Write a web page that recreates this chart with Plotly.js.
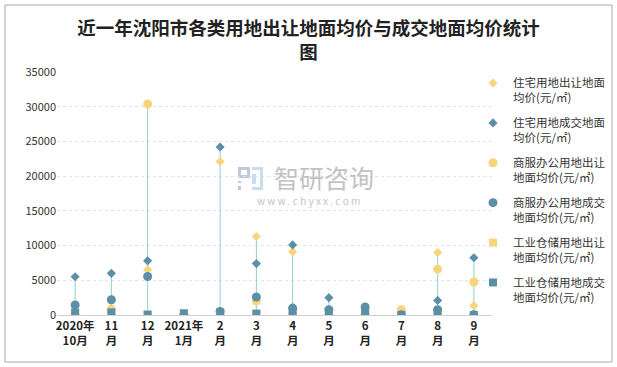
<!DOCTYPE html>
<html>
<head>
<meta charset="utf-8">
<script src="https://cdn.plot.ly/plotly-3.0.1.min.js"></script>
<style>html,body{margin:0;padding:0;background:#fff;}#chart{width:617px;height:367px;}</style>
</head>
<body>
<div id="chart"></div>
<script>
const categories = ["2020年<br>10月","11<br>月","12<br>月","2021年<br>1月","2<br>月","3<br>月","4<br>月","5<br>月","6<br>月","7<br>月","8<br>月","9<br>月"];
const seriesNames = ["住宅用地出让地面<br>均价(元/㎡)","住宅用地成交地面<br>均价(元/㎡)","商服办公用地出让<br>地面均价(元/㎡)","商服办公用地成交<br>地面均价(元/㎡)","工业仓储用地出让<br>地面均价(元/㎡)","工业仓储用地成交<br>地面均价(元/㎡)"];
const resTransfer = [0, 0, 6500, 0, 22100, 11300, 9100, 0, 0, 0, 9000, 1350];
const resDeal     = [5500, 6000, 7800, 0, 24200, 7400, 10100, 2500, 0, 0, 2100, 8250];
const comTransfer = [50, 850, 30400, 0, 0, 2000, 300, 50, 0, 750, 6600, 4750];
const comDeal     = [1450, 2200, 5550, 0, 500, 2600, 1000, 750, 1150, 50, 750, 50];
const indTransfer = [100, 100, 50, 0, 80, 60, 80, 80, 0, 0, 0, 0];
const indDeal     = [380, 380, 60, 250, 330, 200, 300, 300, 300, 0, 330, 0];

const yellow = '#F8D47A';
const dark = '#5B8FA7';
const allSeries = [resTransfer, resDeal, comTransfer, comDeal, indTransfer, indDeal];
const colors = [yellow, dark, yellow, dark, yellow, dark];
const symbols = ['diamond','diamond','circle','circle','square','square'];
const sizes = [7, 7, 9, 9, 8, 8];

// high-low lines
const lx = [], ly = [];
categories.forEach((c, i) => {
  const vals = allSeries.map(s => s[i]);
  const mn = Math.min(...vals), mx = Math.max(...vals);
  if (mx > mn) { lx.push(c, c, null); ly.push(mn, mx, null); }
});
const traces = [{
  x: lx, y: ly, type: 'scatter', mode: 'lines',
  line: {color: '#8FD0CF', width: 1}, showlegend: false, hoverinfo: 'skip'
}];
allSeries.forEach((s, k) => {
  traces.push({
    x: categories, y: s, type: 'scatter', mode: 'markers', name: seriesNames[k],
    legendgroup: 'g' + k,
    marker: {color: colors[k], symbol: symbols[k], size: sizes[k]}
  });
});

const L = 57, R = 492, T = 72, B = 315;
const pw = R - L, ph = B - T;
const px = v => (v - L) / pw;
const py = v => (B - v) / ph;

const logo = [
  // left piece (grey-blue)
  [238, 250, 167, 170, '#c3c9dd'], [238, 241, 167, 178, '#c3c9dd'], [247, 250, 167, 178, '#c3c9dd'],
  [238, 250, 175, 178, '#c3c9dd'], [238, 241, 181, 183, '#c3c9dd'], [238, 241, 186, 190, '#c3c9dd'],
  // right piece (light blue)
  [252, 263, 167, 170, '#c6def0'], [260, 263, 167, 190, '#c6def0'], [252, 263, 187, 190, '#c6def0'],
  [252, 256, 174, 184, '#c6def0']
];
const shapes = [{
  type: 'rect', xref: 'paper', yref: 'paper',
  x0: px(5), x1: px(612), y0: py(362), y1: py(5),
  line: {color: '#aaaaaa', width: 1}, layer: 'below'
}];
logo.forEach(r => shapes.push({
  type: 'rect', xref: 'paper', yref: 'paper', x0: px(r[0]), x1: px(r[1]), y0: py(r[3]), y1: py(r[2]),
  fillcolor: r[4], line: {width: 0}, layer: 'below'
}));

const layout = {
  width: 617, height: 367,
  margin: {l: L, r: 617 - R, t: T, b: 367 - B, autoexpand: false},
  paper_bgcolor: '#fff', plot_bgcolor: '#fff',
  font: {family: '"Noto Sans CJK SC", "Noto Sans", sans-serif', color: '#333'},
  title: {
    text: '近一年沈阳市各类用地出让地面均价与成交地面均价统计<br>图',
    font: {size: 18.5, color: '#222', family: '"Noto Sans CJK SC", sans-serif', weight: 'bold'},
    x: 0.5, xref: 'container', xanchor: 'center',
    y: 1 - 35/367, yref: 'container', yanchor: 'middle'
  },
  xaxis: {
    type: 'category', categoryorder: 'array', categoryarray: categories,
    range: [-0.5, 11.5], showgrid: false, zeroline: false,
    showline: true, linecolor: '#d0d0d0', linewidth: 1,
    ticks: '', tickfont: {size: 11.5, color: '#222', weight: 'bold'}
  },
  yaxis: {
    range: [0, 35000], dtick: 5000, tickformat: 'd',
    showgrid: true, gridcolor: '#e3e3e3', griddash: 'dot', zeroline: false,
    showline: false, ticks: '', tickfont: {size: 11, color: '#333'}
  },
  legend: {
    x: px(473), xanchor: 'left', y: py(69), yanchor: 'top',
    bgcolor: 'rgba(0,0,0,0)', font: {size: 11.5, color: '#333'},
    tracegroupgap: 7, valign: 'top', maxheight: 290
  },
  shapes: shapes,
  annotations: [
    {text: '智研咨询', xref: 'paper', yref: 'paper', x: px(324), y: py(177), showarrow: false,
     font: {size: 25, color: '#c2c2c2'}},
    {text: 'w w w . c h y x x . c o m', xref: 'paper', yref: 'paper', x: px(308), y: py(200), showarrow: false,
     font: {size: 10, color: '#c4c4c4'}}
  ]
};
Plotly.newPlot('chart', traces, layout, {displayModeBar: false, staticPlot: true});
</script>
</body>
</html>
